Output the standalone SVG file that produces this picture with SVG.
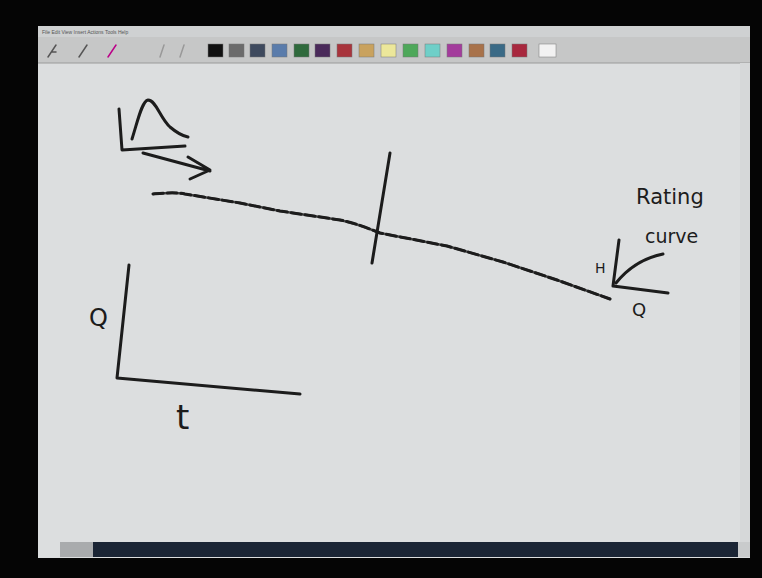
<svg xmlns="http://www.w3.org/2000/svg" width="762" height="578" viewBox="0 0 762 578">
<style>
.ink{fill:none;stroke:#1c1c1c;stroke-width:3;stroke-linecap:round;stroke-linejoin:round}
.hw{font-family:"DejaVu Sans","Liberation Sans",sans-serif;fill:#1c1c1c}
.menu{font-family:"Liberation Sans",sans-serif;font-size:5px;fill:#555}
</style>
<rect x="0" y="0" width="762" height="578" fill="#050505"/>
<g id="window">
<rect x="38" y="26" width="712" height="532" fill="#dcdedf"/>
<rect x="38" y="26" width="712" height="11" fill="#cfd1d2"/>
<text class="menu" x="42" y="33.5">File  Edit  View  Insert  Actions  Tools  Help</text>
<rect x="38" y="37" width="712" height="26" fill="#c6c7c7"/>
<line x1="38" y1="63" x2="750" y2="63" stroke="#9a9a9a" stroke-width="1"/>
<g fill="none" stroke="#555" stroke-width="1.5" stroke-linecap="round">
<path d="M48 57 L56 45 M52 52 l4 0"/>
<path d="M79 57 L87 45"/>
<path d="M108 57 L116 45" stroke="#b08"/>
<path d="M160 57 L164 45 M180 57 L184 45" stroke="#999"/>
</g>
<g id="swatches" stroke="#777" stroke-width="0.5">
<rect x="208" y="44" width="15" height="13" fill="#111"/>
<rect x="229" y="44" width="15" height="13" fill="#6b6b6b"/>
<rect x="250" y="44" width="15" height="13" fill="#3e4a5e"/>
<rect x="272" y="44" width="15" height="13" fill="#5a7cab"/>
<rect x="294" y="44" width="15" height="13" fill="#2f6a3c"/>
<rect x="315" y="44" width="15" height="13" fill="#4a2a5a"/>
<rect x="337" y="44" width="15" height="13" fill="#a8343c"/>
<rect x="359" y="44" width="15" height="13" fill="#c9a25e"/>
<rect x="381" y="44" width="15" height="13" fill="#ece79a"/>
<rect x="403" y="44" width="15" height="13" fill="#4ea85a"/>
<rect x="425" y="44" width="15" height="13" fill="#6fcfc8"/>
<rect x="447" y="44" width="15" height="13" fill="#a33c9c"/>
<rect x="469" y="44" width="15" height="13" fill="#a8724a"/>
<rect x="490" y="44" width="15" height="13" fill="#3a6a86"/>
<rect x="512" y="44" width="15" height="13" fill="#a8283e"/>
<rect x="539" y="44" width="17" height="13" fill="#f2f2f2"/>
</g>
<rect x="740" y="63" width="10" height="479" fill="#d6d8d9"/>
<rect x="60" y="542" width="33" height="15" fill="#a9abad"/>
<rect x="93" y="542" width="645" height="15" fill="#1b2535"/>
<rect x="738" y="542" width="12" height="15" fill="#c9cbcc"/>
</g>
<g id="hydrograph">
<path class="ink" d="M119 109 L122 150 L185 146"/>
<path class="ink" d="M132 139 C138 120 142 101 148 100 C156 100 160 118 170 127 C177 133 183 136 188 137"/>
<path class="ink" d="M143 153 L210 171 M188 157 L210 170 L190 179"/>
</g>
<g id="river">
<path fill="none" stroke="#4a4a4a" stroke-width="2.5" stroke-linecap="round" stroke-linejoin="round" d="M153 194 C165 193 175 192 185 194 L240 203 L280 211 L340 220 C355 223 365 227 380 233 L447 246 L503 262 L557 280 L610 299"/>
<path class="ink" stroke-dasharray="10 4" d="M153 194 C165 193 175 192 185 194 L240 203 L280 211 L340 220 C355 223 365 227 380 233 L447 246 L503 262 L557 280 L610 299"/>
<path class="ink" stroke-width="2.5" d="M390 153 L372 263"/>
</g>
<g id="rating-curve">
<text class="hw" x="636" y="204" font-size="21">Rating</text>
<text class="hw" x="645" y="243" font-size="19">curve</text>
<text class="hw" x="595" y="273" font-size="14">H</text>
<path class="ink" d="M619 240 L613 286 L668 293"/>
<path class="ink" d="M616 283 C628 268 643 258 663 254"/>
<text class="hw" x="632" y="316" font-size="18">Q</text>
</g>
<g id="q-t-axes">
<path class="ink" d="M129 265 L117 378 L300 394"/>
<text class="hw" x="89" y="326" font-size="24">Q</text>
<text class="hw" x="176" y="429" font-size="34">t</text>
</g>
</svg>
